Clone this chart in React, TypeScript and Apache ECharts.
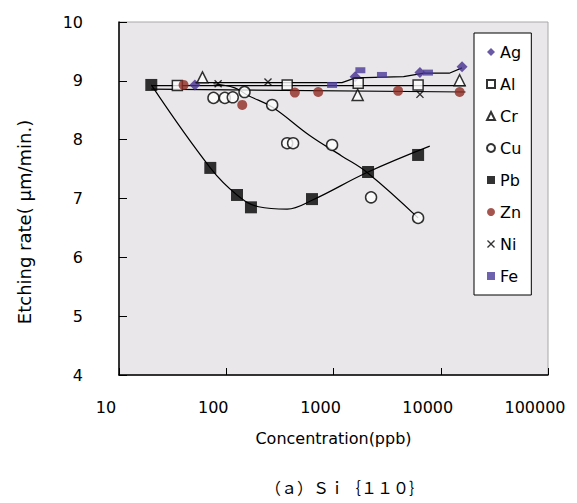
import React, { useEffect, useRef } from "react";
import * as echarts from "echarts";

// ---- data ----
const agX = [51, 1590, 6400, 15800];
const agY = [8.93, 9.07, 9.14, 9.24];
const alX = [35, 370, 1700, 6150];
const alY = [8.92, 8.93, 8.96, 8.93];
const crX = [60, 1680, 15000];
const crY = [9.06, 8.76, 9.01];
const cuX = [76, 97, 115, 148, 268, 370, 420, 970, 2240, 6150];
const cuY = [8.71, 8.71, 8.72, 8.81, 8.59, 7.94, 7.94, 7.91, 7.02, 6.67];
const pbX = [20, 71, 126, 170, 630, 2100, 6150];
const pbY = [8.93, 7.52, 7.06, 6.85, 6.99, 7.45, 7.74];
const znX = [40, 141, 436, 720, 4000, 15000];
const znY = [8.93, 8.59, 8.8, 8.81, 8.83, 8.81];
const niX = [84, 245, 6400];
const niY = [8.95, 8.98, 8.77];
const feX = [970, 1780, 2830, 7600];
const feY = [8.93, 9.18, 9.1, 9.14];

// trend lines
const pbTrendX = [20, 71, 126, 200, 370, 630, 2100, 7900];
const pbTrendY = [8.93, 7.52, 7.06, 6.86, 6.82, 6.97, 7.45, 7.89];
const cuTrendX = [76, 120, 160, 270, 600, 1200, 2100, 6150];
const cuTrendY = [8.95, 8.88, 8.75, 8.55, 8.07, 7.72, 7.43, 6.67];
const agTrendX = [51, 1200, 1600, 4500, 7000, 12000, 15800];
const agTrendY = [8.97, 8.97, 9.05, 9.07, 9.13, 9.13, 9.22];
const alTrendX = [20, 17000];
const alTrendY = [8.92, 8.92];
const znTrendX = [20, 17000];
const znTrendY = [8.86, 8.81];

const xTickLabels = ["10", "100", "1000", "10000", "100000"];
const yName = "Etching rate( μm/min.)";
const xName = "Concentration(ppb)";
const caption = "（ａ）Ｓｉ｛１１０｝";

const zip = (xs: number[], ys: number[]) => xs.map((x, i) => [x, ys[i]]);

const xMark =
  "path://M0,1.2 L1.2,0 L5,3.8 L8.8,0 L10,1.2 L6.2,5 L10,8.8 L8.8,10 L5,6.2 L1.2,10 L0,8.8 L3.8,5 Z";

const FONT = "DejaVu Sans";

export default function App() {
  const ref = useRef<HTMLDivElement>(null);
  useEffect(() => {
    if (!ref.current) return;
    const chart = echarts.init(ref.current, null, { renderer: "svg" });

    const scatter = (name: string, xs: number[], ys: number[], symbol: string, size: any, itemStyle: any) => ({
      name,
      type: "scatter",
      data: zip(xs, ys),
      symbol,
      symbolSize: size,
      itemStyle,
      z: 5,
    });
    const trend = (xs: number[], ys: number[], smooth: any = false) => ({
      type: "line",
      data: zip(xs, ys),
      showSymbol: false,
      symbol: "none",
      smooth,
      lineStyle: { color: "#000", width: 1.2 },
      silent: true,
      z: 3,
    });

    chart.setOption({
      animation: false,
      backgroundColor: "#ffffff",
      textStyle: { fontFamily: FONT },
      grid: {
        left: 119,
        top: 22,
        width: 429,
        height: 353,
        show: true,
        backgroundColor: "#EAE7EA",
        borderColor: "#A8A8A8",
        borderWidth: 1,
      },
      legend: {
        orient: "vertical",
        left: 474,
        top: 33,
        padding: [10, 10, 10, 12],
        itemWidth: 8,
        itemHeight: 8,
        itemGap: 14,
        backgroundColor: "#ffffff",
        borderColor: "#000",
        borderWidth: 1,
        textStyle: { fontSize: 16, lineHeight: 18, color: "#000", fontFamily: FONT },
        data: ["Ag", "Al", "Cr", "Cu", "Pb", "Zn", "Ni", "Fe"],
      },
      xAxis: {
        type: "log",
        logBase: 10,
        min: 10,
        max: 100000,
        name: xName,
        nameLocation: "middle",
        nameGap: 55,
        nameTextStyle: { fontSize: 16, color: "#000", fontFamily: FONT },
        axisLine: { lineStyle: { color: "#000", width: 1.5 } },
        axisTick: { inside: true, length: 7, lineStyle: { color: "#000" } },
        minorTick: { show: false },
        splitLine: { show: false },
        axisLabel: {
          margin: 24,
          fontSize: 16,
          color: "#000",
          fontFamily: FONT,
          padding: [0, 26, 0, 0],
          formatter: (v: number) => xTickLabels[Math.round(Math.log10(v)) - 1] ?? "",
        },
      },
      yAxis: {
        type: "value",
        min: 4,
        max: 10,
        interval: 1,
        axisLine: { show: true, lineStyle: { color: "#000", width: 1.5 } },
        axisTick: { show: true, inside: true, length: 8, lineStyle: { color: "#000" } },
        splitLine: { show: false },
        axisLabel: { margin: 36, fontSize: 16, color: "#000", fontFamily: FONT },
      },
      graphic: [
        {
          type: "text",
          x: 24,
          y: 222,
          rotation: Math.PI / 2,
          style: {
            text: yName,
            fontSize: 18,
            fontFamily: FONT,
            fill: "#000",
            align: "center",
            verticalAlign: "middle",
          },
        },
        {
          type: "text",
          x: 345,
          y: 487,
          style: {
            text: caption,
            fontSize: 16,
            fontFamily: "Noto Sans CJK JP",
            fill: "#000",
            align: "center",
            verticalAlign: "middle",
          },
        },
      ],
      series: [
        trend(pbTrendX, pbTrendY, 0.4),
        trend(cuTrendX, cuTrendY, 0.4),
        trend(agTrendX, agTrendY),
        trend(alTrendX, alTrendY),
        trend(znTrendX, znTrendY),
        scatter("Ag", agX, agY, "diamond", 11, { color: "#45308F" }),
        scatter("Al", alX, alY, "rect", 10, { color: "#ffffff", borderColor: "#000", borderWidth: 1.5 }),
        scatter("Cr", crX, crY, "triangle", 11, { color: "#ffffff", borderColor: "#000", borderWidth: 1.5 }),
        scatter("Cu", cuX, cuY, "circle", 11, { color: "#ffffff", borderColor: "#000", borderWidth: 1.5 }),
        scatter("Pb", pbX, pbY, "rect", 12, { color: "#000000" }),
        scatter("Zn", znX, znY, "circle", 10, { color: "#8E2A22" }),
        scatter("Ni", niX, niY, xMark, 8, { color: "#000000" }),
        scatter("Fe", feX, feY, "rect", [10, 6], { color: "#4A3A98" }),
      ],
    });
    return () => chart.dispose();
  }, []);
  return (
    <div
      ref={ref}
      style={{ position: "absolute", left: 0, top: 0, width: 577, height: 503, background: "#fff" }}
    />
  );
}
